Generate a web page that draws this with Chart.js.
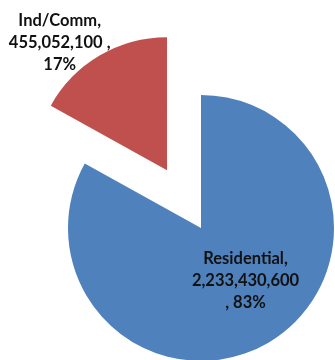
<!DOCTYPE html>
<html>
<head>
<meta charset="utf-8">
<script src="https://cdn.jsdelivr.net/npm/chart.js@4/dist/chart.umd.min.js"></script>
<style>
  html, body { margin: 0; padding: 0; background: #fff; overflow: hidden; }
  #wrap { width: 335px; height: 360px; overflow: hidden; }
  canvas { display: block; }
</style>
</head>
<body>
<div id="wrap"><canvas id="piechart" width="335" height="380"></canvas></div>
<script>
// load by sector
const categories = ['Residential', 'Ind/Comm'];
const loads = [2233430600, 455052100];
const sliceColors = ['#4F81BD', '#C0504D'];

// pull-out distance per slice and where each label sits (fraction of radius)
const explodeDist = [0, 67];
const labelRadius = [0.52, 1.254];

function pct(i) {
    const total = loads.reduce((a, b) => a + b, 0);
    return Math.round(loads[i] / total * 100);
}

function labelLines(i) {
    const num = loads[i].toLocaleString('en-US');
    if (i === 0) return [categories[i] + ',', num, ', ' + pct(i) + '%'];
    return [categories[i] + ',', num + ' ,', pct(i) + '%'];
}

// draws the arcs ourselves so a slice can be pulled straight out
const explodePlugin = {
    id: 'explode',
    beforeDatasetDraw(chart, args, opts) {
        const ctx = chart.ctx;
        args.meta.data.forEach((arc, i) => {
            const d = opts.distances[i] || 0;
            const mid = (arc.startAngle + arc.endAngle) / 2;
            ctx.save();
            ctx.translate(Math.cos(mid) * d, Math.sin(mid) * d);
            arc.draw(ctx, chart.chartArea);
            ctx.restore();
        });
        return false;
    }
};

const sliceLabels = {
    id: 'sliceLabels',
    afterDatasetsDraw(chart, args, opts) {
        const ctx = chart.ctx;
        const meta = chart.getDatasetMeta(0);
        ctx.save();
        ctx.font = opts.font;
        ctx.fillStyle = opts.color;
        ctx.textAlign = 'center';
        ctx.textBaseline = 'middle';
        meta.data.forEach((arc, i) => {
            const mid = (arc.startAngle + arc.endAngle) / 2;
            const d = explodeDist[i];
            const a = mid + opts.shift;
            const r = arc.outerRadius * labelRadius[i];
            const cx = arc.x + Math.cos(mid) * d + Math.cos(a) * r;
            const cy = arc.y + Math.sin(mid) * d + Math.sin(a) * r;
            const lines = labelLines(i);
            const top = cy - (lines.length - 1) * opts.lineHeight / 2;
            lines.forEach((t, k) => ctx.fillText(t, cx, top + k * opts.lineHeight));
        });
        ctx.restore();
    }
};

new Chart(document.getElementById('piechart'), {
    type: 'pie',
    data: {
        labels: categories,
        datasets: [{
            data: loads,
            backgroundColor: sliceColors,
            borderWidth: 0,
            hoverBorderWidth: 0,
            hoverOffset: 0
        }]
    },
    options: {
        responsive: false,
        animation: false,
        events: [],
        layout: { padding: { left: 68, right: 1, top: 95, bottom: 19 } },
        plugins: {
            legend: { display: false },
            tooltip: { enabled: false },
            explode: { distances: explodeDist },
            sliceLabels: {
                font: 'bold 16.5px Lato',
                color: '#111',
                lineHeight: 22,
                shift: -9.6 * Math.PI / 180
            }
        }
    },
    plugins: [explodePlugin, sliceLabels]
});
</script>
</body>
</html>
